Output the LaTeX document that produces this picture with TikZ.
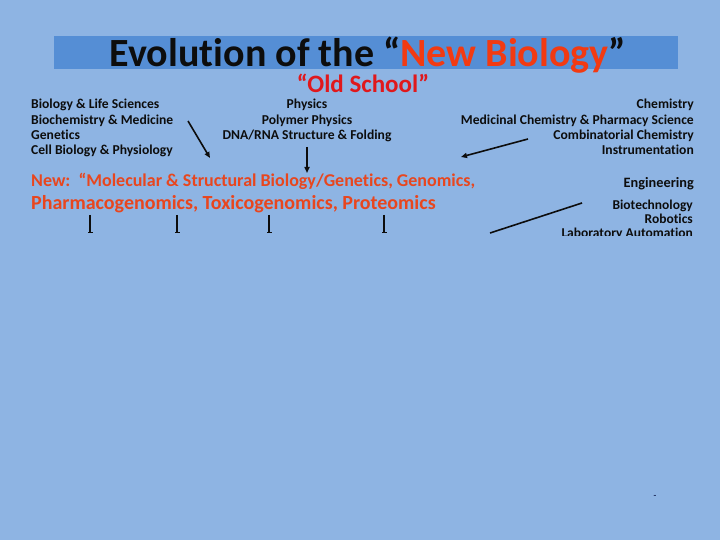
\documentclass[tikz,border=0pt]{standalone}
\usepackage{fontspec}
\setmainfont{Carlito}[Ligatures=NoCommon]
\usepackage{xcolor}
\usetikzlibrary{arrows.meta, positioning}
\definecolor{slidebg}{HTML}{8EB4E3}
\definecolor{titlebar}{HTML}{558ED5}
\definecolor{titlered}{HTML}{F23A12}
\definecolor{oldred}{HTML}{E0181C}
\definecolor{newred}{HTML}{E8461E}
\definecolor{inkdark}{HTML}{0D0D0D}
\definecolor{marknavy}{HTML}{1F2F5F}
\tikzset{
  field/.style={font=\bfseries\fontsize{13.6}{15.3}\selectfont, inner sep=0pt, text=inkdark},
  leftfield/.style={field, align=left, anchor=north west},
  midfield/.style={field, align=center, anchor=north},
  rightfield/.style={field, align=right, anchor=north east},
  newline/.style={font=\bfseries, inner sep=0pt, text=newred, anchor=north west},
  flow/.style={-{Triangle[length=6pt, width=5pt]}, line width=1.6pt, draw=inkdark},
  stub/.style={-{Bar[width=5pt]}, line width=1.2pt, draw=inkdark},
}
\begin{document}
\begin{tikzpicture}[x=1pt, y=-1pt]
  \fill[slidebg] (0,0) rectangle (720,540);
  \useasboundingbox (0,0) rectangle (720,540);

  % title
  \fill[titlebar] (54,36) rectangle (678,69);
  \node[inner sep=0pt, anchor=base, text depth=4pt, font=\bfseries\fontsize{40}{44}\selectfont, text=inkdark] (title) at (368,66.5)
    {Evolution of the “{\color{titlered}New Biology}”};
  \node[inner sep=0pt, anchor=base, text height=14pt, text depth=3pt, font=\bfseries\fontsize{25}{27}\selectfont, text=oldred] (oldschool) at (363,93) {“Old School”};

  % old school fields
  \node[leftfield] (biology) at (31,99) {Biology \& Life Sciences\\ Biochemistry \& Medicine\\ Genetics\\ Cell Biology \& Physiology};
  \node[midfield] (physics) at (307,99) {Physics\\ Polymer Physics\\ DNA/RNA Structure \& Folding};
  \node[rightfield] (chemistry) at (694,99) {Chemistry\\ Medicinal Chemistry \& Pharmacy Science\\ Combinatorial Chemistry\\ Instrumentation};

  % new biology
  \node[newline, font=\bfseries\fontsize{18}{20}\selectfont] (newone) at (31,173.5) {New:\ \ “Molecular \& Structural Biology/Genetics, Genomics,};
  \node[newline, font=\bfseries\fontsize{20}{22}\selectfont] (newtwo) at (31,195) {Pharmacogenomics, Toxicogenomics, Proteomics};

  \node[rightfield, font=\bfseries\fontsize{14.3}{15}\selectfont] (engineering) at (694,177) {Engineering};
  \begin{scope}
    \clip (540,190) rectangle (720,235);
    \node[rightfield, font=\bfseries\fontsize{13.5}{14}\selectfont] (biotech) at (693,200) {Biotechnology\\ Robotics\\ Laboratory Automation};
  \end{scope}

  % connectors
  \coordinate (bioS) at (188,121);
  \coordinate (bioE) at (210,158);
  \coordinate (physS) at (307,147);
  \coordinate (physE) at (307,173);
  \coordinate (chemS) at (528,139);
  \coordinate (chemE) at (461,157);
  \coordinate (engS) at (582,203);
  \coordinate (engE) at (490,233);
  \draw[flow] (bioS) -- (bioE);
  \draw[flow] (physS) -- (physE);
  \draw[flow] (chemS) -- (chemE);
  \draw[line width=1.6pt, draw=inkdark] (engS) -- (engE);
  \foreach \x/\n in {90/a, 177/b, 269/c, 384/d} {
    \coordinate (stub\n S) at (\x,215);
    \coordinate (stub\n E) at (\x,233);
    \draw[stub] (stub\n S) -- (stub\n E);
  }

  \node[inner sep=0pt, font=\bfseries\fontsize{9}{9}\selectfont, text=marknavy] (pagemark) at (655,497) {-};
\end{tikzpicture}
\end{document}
